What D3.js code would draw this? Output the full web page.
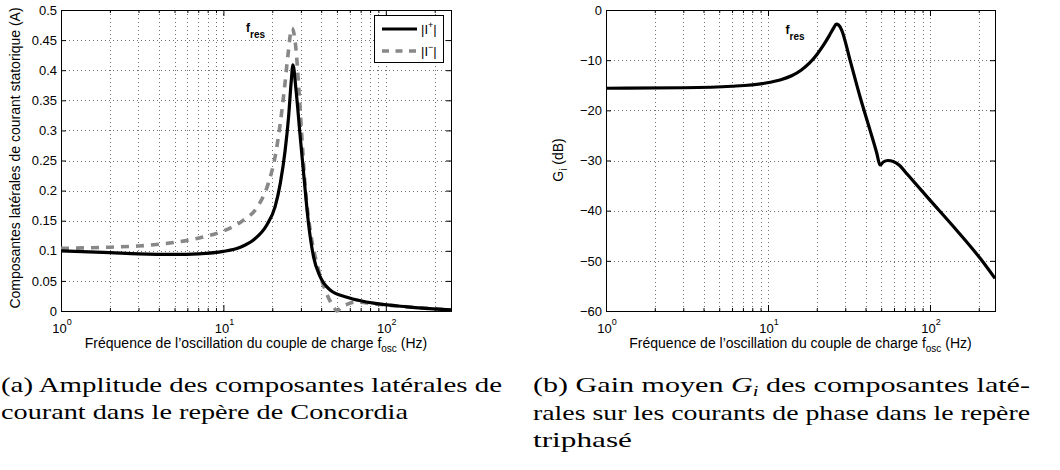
<!DOCTYPE html>
<html><head><meta charset="utf-8">
<script src="https://cdn.jsdelivr.net/npm/d3@7"></script>
<style>
body{margin:0;background:#fff}
svg{display:block}
</style>
</head><body><svg id="c" width="1060" height="470"></svg>
<script>
// ---------- data ----------
const xDomain = [1, 252];
const xTickDecades = [1, 10, 100];
const xTickExponents = ["0", "1", "2"];
const xMinor = [2, 3, 4, 5, 6, 7, 8, 9, 20, 30, 40, 50, 60, 70, 80, 90, 200];

const yTicksA = [0, 0.05, 0.1, 0.15, 0.2, 0.25, 0.3, 0.35, 0.4, 0.45, 0.5];
const yTickLabelsA = ["0", "0.05", "0.1", "0.15", "0.2", "0.25", "0.3", "0.35", "0.4", "0.45", "0.5"];
const yTicksB = [-60, -50, -40, -30, -20, -10, 0];
const yTickLabelsB = ["\u221260", "\u221250", "\u221240", "\u221230", "\u221220", "\u221210", "0"];

// |I+| (solid)
const freqPos = [1, 2, 3, 5, 7, 10, 12.7, 15.3, 18.5, 20.8, 22.4, 24, 25.2, 26.1, 26.8, 28, 29.7, 31.6, 33.4, 35.9, 39.4, 45.4, 57.6, 70, 84, 135, 252];
const ampPos  = [0.100, 0.097, 0.095, 0.094, 0.095, 0.099, 0.106, 0.118, 0.143, 0.173, 0.212, 0.267, 0.323, 0.378, 0.409, 0.367, 0.290, 0.212, 0.146, 0.090, 0.057, 0.035, 0.023, 0.017, 0.013, 0.007, 0.002];
// |I-| (dashed)
const freqNeg = [1, 2, 3, 5, 7, 10, 13.3, 16.1, 18.9, 20.8, 22.4, 23.7, 24.9, 26.4, 28, 29, 30.4, 31.9, 34.2, 37.6, 42.3, 47.6, 50, 53, 57.6, 66, 84, 135, 252];
const ampNeg  = [0.104, 0.106, 0.108, 0.114, 0.121, 0.133, 0.151, 0.172, 0.212, 0.256, 0.312, 0.367, 0.422, 0.470, 0.434, 0.378, 0.290, 0.206, 0.135, 0.079, 0.035, 0.007, 0.000, 0.006, 0.011, 0.015, 0.012, 0.007, 0.002];
// G_i (dB)
const freqB = [1, 3, 6, 9.5, 12, 14, 16, 18, 20, 22, 24, 25.5, 26.4, 27.3, 28.5, 32.1, 37, 42.6, 47, 49.1, 51.5, 55, 59.3, 65, 71.8, 100, 146, 204, 252];
const gainB = [-15.6, -15.5, -15.2, -14.6, -13.9, -13.1, -12.0, -10.6, -8.9, -7.0, -5.0, -3.5, -2.8, -3.0, -4.0, -10.0, -17.3, -23.9, -28.6, -30.9, -30.3, -30.0, -30.2, -31.0, -32.6, -37.9, -43.9, -49.5, -53.5];

const xLabelMain = "Fréquence de l\u2019oscillation du couple de charge f";
const xLabelSub = "osc";
const xLabelEnd = " (Hz)";
const yLabelA = "Composantes latérales de courant statorique (A)";

// ---------- drawing ----------
const svg = d3.select("#c");
const SANS = '"Liberation Sans", Arimo, Arial, Helvetica, sans-serif';
const SERIF = '"Liberation Serif", Tinos, "Times New Roman", Times, "Nimbus Roman", FreeSerif, serif';

function panel(cfg) {
  const g = svg.append("g");
  const xs = d3.scaleLog().domain(xDomain).range([cfg.x0, cfg.x1]);
  const ys = d3.scaleLinear().domain(cfg.yDomain).range([cfg.y1, cfg.y0]);

  // grid
  const gx = xMinor.concat(xTickDecades).filter(v => v > xDomain[0] && v < xDomain[1]);
  g.append("g").selectAll("line").data(gx).join("line")
    .attr("x1", d => Math.round(xs(d)) + 0.5).attr("x2", d => Math.round(xs(d)) + 0.5)
    .attr("y1", cfg.y0).attr("y2", cfg.y1)
    .attr("stroke", "#6f6f6f").attr("stroke-width", 1).attr("stroke-dasharray", "1,3");
  const gy = cfg.yTicks.filter(v => v > cfg.yDomain[0] && v < cfg.yDomain[1]);
  g.append("g").selectAll("line").data(gy).join("line")
    .attr("y1", d => Math.round(ys(d)) + 0.5).attr("y2", d => Math.round(ys(d)) + 0.5)
    .attr("x1", cfg.x0).attr("x2", cfg.x1)
    .attr("stroke", "#6f6f6f").attr("stroke-width", 1).attr("stroke-dasharray", "1,3");

  // ticks (inward, all four sides)
  const addAxis = (axis, tx, ty) => {
    const a = g.append("g").attr("transform", `translate(${tx},${ty})`).call(axis);
    a.select(".domain").remove();
    a.selectAll("line").attr("stroke", "#000");
    return a;
  };
  addAxis(d3.axisBottom(xs).tickValues(xTickDecades).tickSize(-6).tickFormat(""), 0, cfg.y1);
  addAxis(d3.axisBottom(xs).tickValues(xMinor).tickSize(-3).tickFormat(""), 0, cfg.y1);
  addAxis(d3.axisTop(xs).tickValues(xTickDecades).tickSize(-6).tickFormat(""), 0, cfg.y0);
  addAxis(d3.axisTop(xs).tickValues(xMinor).tickSize(-3).tickFormat(""), 0, cfg.y0);
  const yl = addAxis(d3.axisLeft(ys).tickValues(cfg.yTicks).tickSize(-5).tickPadding(4)
      .tickFormat((d, i) => cfg.yTickLabels[i]), cfg.x0, 0);
  yl.selectAll("text").attr("font-family", SANS).attr("font-size", 13).attr("fill", "#000");
  addAxis(d3.axisRight(ys).tickValues(cfg.yTicks).tickSize(-5).tickFormat(""), cfg.x1, 0);

  // x tick labels 10^n
  const xl = g.append("g").selectAll("text").data(xTickDecades).join("text")
    .attr("x", d => xs(d) + 1).attr("y", cfg.y1 + 22)
    .attr("text-anchor", "middle").attr("font-family", SANS).attr("font-size", 13);
  xl.append("tspan").text("10");
  xl.append("tspan").attr("dy", -8).attr("font-size", 9).text((d, i) => xTickExponents[i]);

  // box
  g.append("rect").attr("x", cfg.x0 + 0.5).attr("y", cfg.y0 + 0.5)
    .attr("width", cfg.x1 - cfg.x0).attr("height", cfg.y1 - cfg.y0)
    .attr("fill", "none").attr("stroke", "#000").attr("stroke-width", 1);

  // x label
  const xt = g.append("text").attr("x", (cfg.x0 + cfg.x1) / 2).attr("y", cfg.y1 + 37)
    .attr("text-anchor", "middle").attr("font-family", SANS).attr("font-size", 14);
  xt.append("tspan").text(xLabelMain);
  xt.append("tspan").attr("dy", 4).attr("font-size", 10).text(xLabelSub);
  xt.append("tspan").attr("dy", -4).text(xLabelEnd);

  return {g, xs, ys};
}

// ----- panel (a)
const A = panel({x0: 61, x1: 451, y0: 10, y1: 311, yDomain: [0, 0.5], yTicks: yTicksA, yTickLabels: yTickLabelsA});
const lineA = d3.line().x(d => A.xs(d[0])).y(d => A.ys(d[1])).curve(d3.curveMonotoneX);
A.g.append("path").datum(d3.zip(freqNeg, ampNeg)).attr("d", lineA)
  .attr("fill", "none").attr("stroke", "#888").attr("stroke-width", 3.6)
  .attr("stroke-dasharray", "8,7");
A.g.append("path").datum(d3.zip(freqPos, ampPos)).attr("d", lineA)
  .attr("fill", "none").attr("stroke", "#000").attr("stroke-width", 3.2);

svg.append("text").attr("transform", "translate(20,158) rotate(-90)")
  .attr("text-anchor", "middle").attr("font-family", SANS).attr("font-size", 14).text(yLabelA);

// legend
const lg = A.g.append("g");
lg.append("rect").attr("x", 374.5).attr("y", 15.5).attr("width", 69).attr("height", 47)
  .attr("fill", "#fff").attr("stroke", "#000");
lg.append("line").attr("x1", 382).attr("x2", 417).attr("y1", 29).attr("y2", 29)
  .attr("stroke", "#000").attr("stroke-width", 3.2);
lg.append("line").attr("x1", 382).attr("x2", 417).attr("y1", 51).attr("y2", 51)
  .attr("stroke", "#888").attr("stroke-width", 3.6).attr("stroke-dasharray", "7,6.5");
[["+", 33.5], ["\u2212", 55.5]].forEach(([s, y]) => {
  const t = lg.append("text").attr("x", 421).attr("y", y).attr("font-family", SANS).attr("font-size", 13);
  t.append("tspan").text("|I");
  t.append("tspan").attr("dy", -6).attr("font-size", 9).text(s);
  t.append("tspan").attr("dy", 6).text("|");
});

// f_res
function fres(g, x, y) {
  const t = g.append("text").attr("x", x).attr("y", y).attr("font-family", SANS)
    .attr("font-weight", "bold").attr("font-size", 12);
  t.append("tspan").text("f");
  t.append("tspan").attr("dy", 6).attr("font-size", 10).text("res");
}
fres(A.g, 246, 31.5);

// ----- panel (b)
const B = panel({x0: 606, x1: 995, y0: 10, y1: 311, yDomain: [-60, 0], yTicks: yTicksB, yTickLabels: yTickLabelsB});
const lineB = d3.line().x(d => B.xs(d[0])).y(d => B.ys(d[1])).curve(d3.curveMonotoneX);
B.g.append("path").datum(d3.zip(freqB, gainB)).attr("d", lineB)
  .attr("fill", "none").attr("stroke", "#000").attr("stroke-width", 3.2);
fres(B.g, 785.5, 34);

const gl = svg.append("text").attr("transform", "translate(563,160) rotate(-90)")
  .attr("text-anchor", "middle").attr("font-family", SANS).attr("font-size", 14);
gl.append("tspan").text("G");
gl.append("tspan").attr("dy", 4).attr("font-size", 10).text("i");
gl.append("tspan").attr("dy", -4).text(" (dB)");

// ----- captions
function capLine(x, y, w, parts) {
  const t = svg.append("text").attr("x", x).attr("y", y).attr("font-family", SERIF).attr("font-size", 22);
  parts.forEach(p => {
    const s = t.append("tspan").text(p.t);
    if (p.i) s.attr("font-style", "italic");
    if (p.dy) s.attr("dy", p.dy);
    if (p.fs) s.attr("font-size", p.fs);
  });
  t.attr("textLength", w).attr("lengthAdjust", "spacingAndGlyphs");
}
capLine(1, 392, 501, [{t: "(a) Amplitude des composantes latérales de"}]);
capLine(1, 419, 407, [{t: "courant dans le repère de Concordia"}]);
capLine(533, 392, 497, [{t: "(b) Gain moyen "}, {t: "G", i: 1}, {t: "i", i: 1, dy: 4, fs: 15}, {t: " des composantes laté-", dy: -4}]);
capLine(533, 420, 497, [{t: "rales sur les courants de phase dans le repère"}]);
capLine(533, 447, 99, [{t: "triphasé"}]);
</script>
</body></html>
